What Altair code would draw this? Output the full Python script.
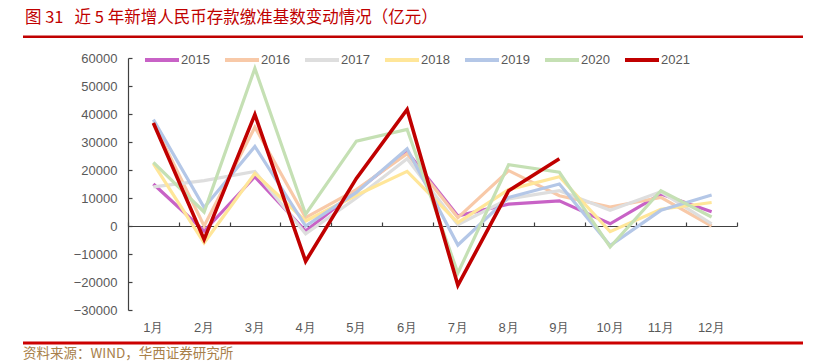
import altair as alt
import pandas as pd

months = ["1月", "2月", "3月", "4月", "5月", "6月", "7月", "8月", "9月", "10月", "11月", "12月"]
years = ["2015", "2016", "2017", "2018", "2019", "2020", "2021"]
colors = ["#c862c6", "#f8c9a8", "#dedede", "#ffe699", "#b4c7e7", "#c5e0b4", "#c00000"]

v2015 = [15000, -1800, 17600, -1800, 12500, 26500, 3600, 7800, 9000, 800, 11400, 5100]
v2016 = [37000, 0, 35300, 3000, 13000, 25800, 3000, 19800, 10800, 6800, 10200, 0]
v2017 = [14000, 16200, 19500, -2800, 10000, 24000, 500, 9700, 12600, 5600, 12200, 800]
v2018 = [22300, -6000, 18800, 1800, 11000, 19500, 1200, 13000, 17600, -2000, 6000, 8400]
v2019 = [38000, 6600, 28400, 0, 12000, 27600, -6800, 10200, 15000, -7000, 5600, 11100]
v2020 = [22700, 5000, 56300, 4200, 30300, 34500, -16800, 21900, 19200, -7500, 12600, 3200]
v2021 = [36800, -4800, 39800, -12600, 17000, 41600, -21200, 12600, 24000]

y_ticks = [-30000, -20000, -10000, 0, 10000, 20000, 30000, 40000, 50000, 60000]

title_text = "图 31\u00a0\u00a0\u00a0近 5 年新增人民币存款缴准基数变动情况（亿元）"
source_text = "资料来源：WIND，华西证券研究所"

series = [v2015, v2016, v2017, v2018, v2019, v2020, v2021]
rows = []
for yr, vals in zip(years, series):
    for m, v in zip(months, vals):
        rows.append({"month": m, "year": yr, "value": v})
df = pd.DataFrame(rows)

W, H = 609, 252
AX = "#404040"
LBL = "#595959"
FONT = "Liberation Sans"

xscale = alt.Scale(type="band", domain=months, paddingInner=0, paddingOuter=0)
yscale = alt.Scale(domain=[-30000, 60000], nice=False, zero=False)

color_enc = alt.Color(
    "year:N",
    scale=alt.Scale(domain=years, range=colors),
    legend=alt.Legend(
        title=None, orient="none", legendX=15, legendY=-17, direction="horizontal",
        columns=7, symbolType="stroke", symbolSize=1156, symbolStrokeWidth=4,
        labelFont=FONT, labelFontSize=13, labelColor=LBL, labelOffset=0,
        columnPadding=7, symbolOpacity=1,
    ),
)

lines = alt.Chart(df).mark_line(strokeCap="butt", strokeJoin="miter").encode(
    x=alt.X("month:N", sort=months, scale=xscale, bandPosition=0.5,
            axis=alt.Axis(orient="bottom", title=None, domain=False, ticks=False,
                          labelAngle=0, labelPadding=11, labelFont=FONT,
                          labelFontSize=13, labelColor=LBL, grid=False)),
    y=alt.Y("value:Q", scale=yscale,
            axis=alt.Axis(orient="left", title=None, domain=False, ticks=False,
                          values=y_ticks, format="d", labelPadding=11, labelFont=FONT,
                          labelFontSize=13, labelColor=LBL, grid=False)),
    color=color_enc,
    strokeWidth=alt.condition(alt.datum.year == "2021", alt.value(3.6), alt.value(3.2)),
)

axes_layer = alt.Chart(df).mark_line(opacity=0).encode(
    x=alt.X("month:N", sort=months, scale=xscale, bandPosition=0.5,
            axis=alt.Axis(orient="top", offset=-168, title=None, labels=False,
                          domain=True, domainColor=AX, domainWidth=1.2,
                          ticks=True, tickColor=AX, tickSize=4, tickWidth=1.2,
                          tickBand="extent", grid=False)),
    y=alt.Y("value:Q", scale=yscale,
            axis=alt.Axis(orient="right", offset=-W, title=None, labels=False,
                          values=y_ticks, domain=True, domainColor=AX, domainWidth=1.2,
                          ticks=True, tickColor=AX, tickSize=4, tickWidth=1.2, grid=False)),
    detail="year:N",
)

one = alt.Data(values=[{"a": 1}])
two = alt.Data(values=[{"b": 2}])
three = alt.Data(values=[{"c": 3}])

title_mark = alt.Chart(one).mark_text(
    align="left", baseline="middle", font="Noto Sans CJK SC", fontSize=16.5, color="#c00000"
).encode(x=alt.value(-103), y=alt.value(-40), text=alt.value(title_text))

top_rule = alt.Chart(two).mark_rect(color="#c00000").encode(
    x=alt.value(-105), x2=alt.value(675), y=alt.value(-22.5), y2=alt.value(-20))

bottom_rule = alt.Chart(three).mark_rect(color="#cc0000").encode(
    x=alt.value(-105), x2=alt.value(675), y=alt.value(283.5), y2=alt.value(286.5))

source_mark = alt.Chart(one).mark_text(
    align="left", baseline="middle", font="Noto Sans CJK SC", fontSize=13.5, color="#a8804a"
).encode(x=alt.value(-105), y=alt.value(295.5), text=alt.value(source_text))

chart = alt.layer(
    axes_layer, lines, title_mark, top_rule, source_mark, bottom_rule
).resolve_axis(x="independent", y="independent").properties(
    width=W, height=H,
    autosize=alt.AutoSizeParams(type="none"),
    padding={"left": 120, "top": 50, "right": 72, "bottom": 52},
    background="white",
).configure_view(stroke=None)

chart.save("out.html", embed_options={"renderer": "svg", "actions": False})
